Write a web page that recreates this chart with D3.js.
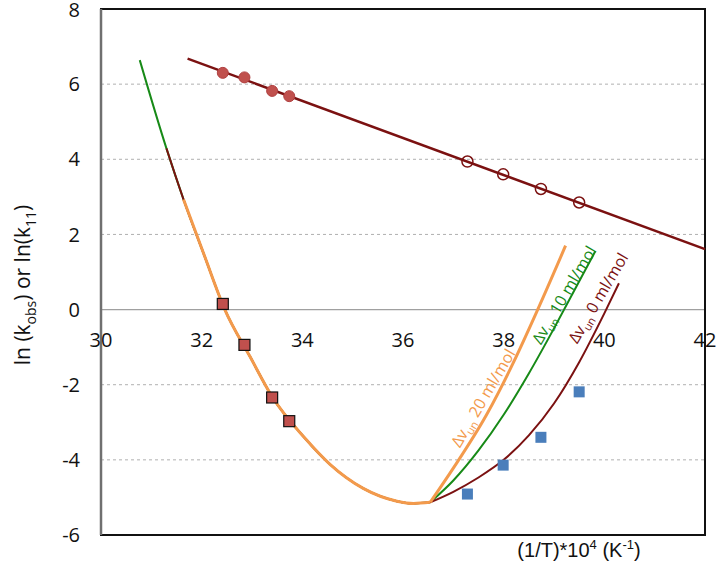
<!DOCTYPE html>
<html><head><meta charset="utf-8">
<script src="https://cdn.jsdelivr.net/npm/d3@7"></script>
<style>body{margin:0;background:#fff}</style>
</head><body>
<script>
// ---- data ----
const xTicks = [30,32,34,36,38,40,42];
const yTicks = [-6,-4,-2,0,2,4,6,8];
const markX1 = [32.42, 32.85, 33.40, 33.74];        // high T markers
const markX2 = [37.28, 37.99, 38.74, 39.50];        // low T markers
const k11Filled = [6.30, 6.18, 5.82, 5.68];
const k11Open = [3.94, 3.60, 3.21, 2.85];
const kobsRed = [0.15, -0.94, -2.34, -2.97];
const kobsBlue = [-4.91, -4.14, -3.40, -2.19];
const k11LineX = [31.72, 42];
const k11LineY = [6.68, 1.61];
// shared U branch
const uX = [30.77, 31.30, 31.64, 32.05, 32.46, 32.96, 33.41, 34.05, 34.55, 35.21, 35.88, 36.21, 36.54];
const uY = [6.64, 4.29, 2.93, 1.45, 0.0, -1.25, -2.34, -3.42, -4.12, -4.76, -5.10, -5.16, -5.13];
// right branches
const orX = [37.0, 37.66, 38.19, 38.66, 39.23];
const orY = [-4.22, -2.80, -1.42, -0.05, 1.70];
const grX = [37.0, 37.5, 38.0, 38.5, 39.0, 39.4, 39.82];
const grY = [-4.55, -3.75, -2.8, -1.7, -0.5, 0.5, 1.55];
const rdX = [37.0, 37.5, 38.0, 38.5, 39.0, 39.5, 40.0, 40.29];
const rdY = [-4.85, -4.47, -4.0, -3.35, -2.5, -1.4, -0.1, 0.70];
const curveStart = {green: 30.77, red: 31.30, orange: 31.64};
const labelVals = ["20", "10", "0"];

const W = 717, H = 565;
const svg = d3.select("body").append("svg").attr("width", W).attr("height", H);
const x = d3.scaleLinear().domain([30, 42]).range([101, 705]);
const y = d3.scaleLinear().domain([-6, 8]).range([535, 9]);

const C = {dred: "#7b1111", green: "#178a17", orange: "#f39a4c", mk: "#c0504d", blue: "#4a7ebb"};
const font = "'Open Sans', sans-serif";

// grid
svg.append("g").selectAll("line").data(yTicks.filter(v => v !== 0 && v !== 8 && v !== -6)).join("line")
  .attr("x1", x(30)).attr("x2", x(42)).attr("y1", d => y(d)).attr("y2", d => y(d))
  .attr("stroke", "#b0b0b0").attr("stroke-width", 1).attr("stroke-dasharray", "3,3");
svg.append("line").attr("x1", x(30)).attr("x2", x(42)).attr("y1", y(0)).attr("y2", y(0))
  .attr("stroke", "#a0a0a0").attr("stroke-width", 1.3);

// frame
svg.append("rect").attr("x", x(30)).attr("y", y(8)).attr("width", x(42) - x(30)).attr("height", y(-6) - y(8))
  .attr("fill", "none").attr("stroke", "#111").attr("stroke-width", 2);
svg.append("line").attr("x1", x(30)).attr("x2", x(30)).attr("y1", y(8)).attr("y2", y(-6))
  .attr("stroke", "#707070").attr("stroke-width", 2.5);

// ticks labels
svg.append("g").selectAll("text").data(yTicks).join("text")
  .attr("x", 80).attr("y", d => y(d)).attr("dy", d => d === 8 ? "0.42em" : "0.36em").attr("text-anchor", "end")
  .attr("font-family", font).attr("font-size", 20).attr("fill", "#111").text(d => d);
svg.append("g").selectAll("text").data(xTicks).join("text")
  .attr("x", d => x(d)).attr("y", 340).attr("dy", "0.36em").attr("text-anchor", "middle")
  .attr("font-family", font).attr("font-size", 20).attr("fill", "#111").text(d => d);

// axis titles
const yl = svg.append("text").attr("transform", "translate(22,285) rotate(-90)")
  .attr("text-anchor", "middle").attr("dy", "0.36em")
  .attr("font-family", font).attr("font-size", 21).attr("fill", "#111");
yl.append("tspan").text("ln (k");
yl.append("tspan").attr("font-size", 14).attr("dy", 6).text("obs");
yl.append("tspan").attr("dy", -6).text(") or ln(k");
yl.append("tspan").attr("font-size", 14).attr("dy", 6).text("11");
yl.append("tspan").attr("dy", -6).text(")");

const xl = svg.append("text").attr("x", 579).attr("y", 557).attr("text-anchor", "middle")
  .attr("font-family", "'Liberation Sans', Arial, sans-serif").attr("font-size", 20).attr("fill", "#111");
xl.append("tspan").text("(1/T)*10");
xl.append("tspan").attr("font-size", 13).attr("dy", -8).text("4");
xl.append("tspan").attr("dy", 8).text(" (K");
xl.append("tspan").attr("font-size", 13).attr("dy", -8).text("-1");
xl.append("tspan").attr("dy", 8).text(")");

// curves
const line = d3.line().x(d => x(d[0])).y(d => y(d[1])).curve(d3.curveMonotoneX);
function branch(start, bx, by) {
  const pts = uX.map((v, i) => [v, uY[i]]).filter(p => p[0] >= start - 1e-9);
  return [pts, [pts[pts.length - 1]].concat(bx.map((v, i) => [v, by[i]]))];
}
[[curveStart.green, grX, grY, C.green, 2], [curveStart.red, rdX, rdY, C.dred, 2], [curveStart.orange, orX, orY, C.orange, 3]]
  .forEach(([s, bx, by, col, w]) => {
    const [a, b] = branch(s, bx, by);
    svg.append("path").datum(a).attr("d", line).attr("fill", "none").attr("stroke", col).attr("stroke-width", w);
    svg.append("path").datum(b).attr("d", line).attr("fill", "none").attr("stroke", col).attr("stroke-width", w);
  });

// k11 line
svg.append("path").datum(k11LineX.map((v, i) => [v, k11LineY[i]])).attr("d", d3.line().x(d => x(d[0])).y(d => y(d[1])))
  .attr("stroke", C.dred).attr("stroke-width", 2.5).attr("fill", "none");

// markers
svg.append("g").selectAll("circle").data(markX1).join("circle")
  .attr("cx", d => x(d)).attr("cy", (d, i) => y(k11Filled[i])).attr("r", 5.5)
  .attr("fill", C.mk).attr("stroke", "#b04040").attr("stroke-width", 1);
svg.append("g").selectAll("circle").data(markX2).join("circle")
  .attr("cx", d => x(d)).attr("cy", (d, i) => y(k11Open[i])).attr("r", 5.5)
  .attr("fill", "none").attr("stroke", C.dred).attr("stroke-width", 1.5);
svg.append("g").selectAll("rect").data(markX1).join("rect")
  .attr("x", d => x(d) - 5.5).attr("y", (d, i) => y(kobsRed[i]) - 5.5).attr("width", 11).attr("height", 11)
  .attr("fill", C.mk).attr("stroke", "#111").attr("stroke-width", 1.2);
svg.append("g").selectAll("rect").data(markX2).join("rect")
  .attr("x", d => x(d) - 5.5).attr("y", (d, i) => y(kobsBlue[i]) - 5.5).attr("width", 11).attr("height", 11)
  .attr("fill", C.blue);

// curve labels
const labs = [
  {v: labelVals[0], c: C.orange, cx: 483, cy: 398},
  {v: labelVals[1], c: C.green, cx: 564, cy: 295},
  {v: labelVals[2], c: C.dred, cx: 598, cy: 298}
];
labs.forEach(l => {
  const t = svg.append("text").attr("transform", `translate(${l.cx},${l.cy}) rotate(-59.5)`)
    .attr("text-anchor", "middle").attr("dy", "0.36em")
    .attr("font-family", font).attr("font-size", 16).attr("fill", l.c);
  t.append("tspan").text("\u0394v");
  t.append("tspan").attr("font-size", 11).attr("dy", 4).text("un");
  t.append("tspan").attr("dy", -4).text(" " + l.v + " ml/mol");
});
</script>
</body></html>
